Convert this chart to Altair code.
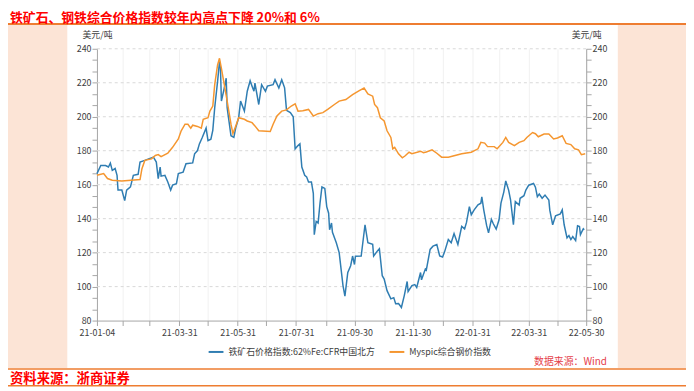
import altair as alt
import pandas as pd

FONT = "Noto Sans CJK SC"

ORE = "铁矿石价格指数:62%Fe:CFR中国北方"
STEEL = "Myspic综合钢价指数"

ore_dates = [
    "2021-01-04", "2021-01-08", "2021-01-13", "2021-01-16", "2021-01-18", "2021-01-20", "2021-01-23", "2021-01-25", "2021-01-26", "2021-01-30",
    "2021-02-02", "2021-02-04", "2021-02-08", "2021-02-11", "2021-02-16", "2021-02-18", "2021-02-23", "2021-02-27", "2021-03-04", "2021-03-07",
    "2021-03-09", "2021-03-11", "2021-03-12", "2021-03-16", "2021-03-19", "2021-03-22", "2021-03-24", "2021-03-28", "2021-03-30", "2021-04-04",
    "2021-04-07", "2021-04-14", "2021-04-16", "2021-04-19", "2021-04-21", "2021-04-24", "2021-04-28", "2021-04-30", "2021-05-03", "2021-05-05",
    "2021-05-07", "2021-05-10", "2021-05-12", "2021-05-13", "2021-05-14", "2021-05-17", "2021-05-19", "2021-05-20", "2021-05-24", "2021-05-27",
    "2021-05-29", "2021-06-01", "2021-06-03", "2021-06-07", "2021-06-10", "2021-06-13", "2021-06-15", "2021-06-17", "2021-06-18", "2021-06-22",
    "2021-06-25", "2021-06-29", "2021-07-01", "2021-07-07", "2021-07-09", "2021-07-13", "2021-07-16", "2021-07-19", "2021-07-21", "2021-07-25",
    "2021-07-28", "2021-07-30", "2021-08-02", "2021-08-04", "2021-08-06", "2021-08-09", "2021-08-11", "2021-08-13", "2021-08-16", "2021-08-18",
    "2021-08-19", "2021-08-21", "2021-08-23", "2021-08-25", "2021-08-27", "2021-08-30", "2021-09-01", "2021-09-03", "2021-09-04", "2021-09-06",
    "2021-09-07", "2021-09-11", "2021-09-14", "2021-09-18", "2021-09-20", "2021-09-23", "2021-09-26", "2021-09-28", "2021-09-30", "2021-10-01",
    "2021-10-07", "2021-10-11", "2021-10-14", "2021-10-19", "2021-10-20", "2021-10-24", "2021-10-26", "2021-10-29", "2021-10-31", "2021-11-03",
    "2021-11-07", "2021-11-10", "2021-11-12", "2021-11-15", "2021-11-18", "2021-11-21", "2021-11-24", "2021-11-25", "2021-11-29", "2021-12-02",
    "2021-12-04", "2021-12-08", "2021-12-09", "2021-12-13", "2021-12-14", "2021-12-18", "2021-12-21", "2021-12-25", "2021-12-28", "2021-12-31",
    "2022-01-02", "2022-01-06", "2022-01-09", "2022-01-12", "2022-01-16", "2022-01-20", "2022-01-23", "2022-01-25", "2022-01-28", "2022-01-30",
    "2022-02-02", "2022-02-06", "2022-02-09", "2022-02-10", "2022-02-12", "2022-02-15", "2022-02-17", "2022-02-20", "2022-02-22", "2022-02-25",
    "2022-02-28", "2022-03-02", "2022-03-05", "2022-03-07", "2022-03-10", "2022-03-12", "2022-03-15", "2022-03-17", "2022-03-21", "2022-03-22",
    "2022-03-26", "2022-03-28", "2022-03-31", "2022-04-05", "2022-04-07", "2022-04-09", "2022-04-11", "2022-04-14", "2022-04-17", "2022-04-21",
    "2022-04-22", "2022-04-25", "2022-04-28", "2022-05-03", "2022-05-05", "2022-05-07", "2022-05-10", "2022-05-12", "2022-05-14", "2022-05-16",
    "2022-05-19", "2022-05-21", "2022-05-23", "2022-05-24", "2022-05-27", "2022-05-28",
]
ore_values = [
    166.5, 171.3, 171.3, 170.4, 172.7, 168.4, 169.5, 165.5, 156.8, 156.8,
    150.6, 156.8, 158.7, 165.5, 166.1, 173.3, 174.3, 175.2, 176.2, 173.3,
    163.6, 170.4, 165, 165.5, 161.6, 156.8, 159.7, 160.6, 166.5, 167.4,
    172.3, 172.8, 178.2, 180.1, 184, 187.8, 193.3, 185.9, 186.8, 192,
    205.3, 220.8, 232.4, 228.5, 209.2, 216.9, 222.7, 205.3, 188.8, 187.8,
    193.6, 199.4, 209.2, 203.3, 215, 221.2, 218, 215, 219.8, 207.2,
    218.9, 215, 218, 218.9, 221.8, 216.9, 221.8, 217, 203.8, 202.4,
    200, 181.1, 183, 184, 170.4, 165.5, 164.6, 161.6, 161.6, 154.9,
    130.6, 138.4, 137.4, 149.1, 158.7, 157.8, 147.1, 143.2, 133.5, 137.4,
    132, 125.8, 120, 100.6, 94.4, 108.3, 112.3, 118, 113, 117.9,
    118, 136.4, 125.8, 124.9, 118, 121, 122.3, 106.4, 104.4, 97.6,
    92.8, 93.5, 89.9, 90, 87.7, 94.7, 103, 97.1, 100.6, 101.2,
    99.5, 108.3, 104, 110.3, 109.7, 121.9, 123.8, 124.8, 118, 117.4,
    120.3, 127.7, 125.8, 131.2, 124.8, 135.4, 134, 137.8, 147.1, 142.3,
    145.2, 148.1, 149.1, 152.9, 145.2, 136, 131.6, 139.6, 137, 133.9,
    139.3, 149.1, 155.8, 162.2, 156.8, 151, 136.4, 150, 148, 152,
    153.5, 156.8, 159.7, 160.7, 158.5, 152.9, 154.5, 152, 153.9, 151,
    145, 136.4, 141.7, 142.8, 145.2, 136.4, 128.7, 130, 127.7, 129.5,
    127.1, 135.8, 135.4, 130.6, 134.1, 133.5,
]

steel_dates = [
    "2021-01-04", "2021-01-11", "2021-01-15", "2021-01-20", "2021-01-30", "2021-02-18", "2021-02-20", "2021-02-23", "2021-03-02", "2021-03-06",
    "2021-03-09", "2021-03-12", "2021-03-19", "2021-03-24", "2021-03-30", "2021-04-02", "2021-04-06", "2021-04-09", "2021-04-12", "2021-04-14",
    "2021-04-19", "2021-04-23", "2021-04-25", "2021-04-30", "2021-05-02", "2021-05-05", "2021-05-07", "2021-05-10", "2021-05-12", "2021-05-14",
    "2021-05-17", "2021-05-20", "2021-05-24", "2021-05-26", "2021-05-29", "2021-06-01", "2021-06-07", "2021-06-10", "2021-06-15", "2021-06-18",
    "2021-06-22", "2021-07-04", "2021-07-07", "2021-07-11", "2021-07-16", "2021-07-21", "2021-07-26", "2021-07-30", "2021-08-02", "2021-08-07",
    "2021-08-13", "2021-08-18", "2021-08-23", "2021-08-28", "2021-09-02", "2021-09-09", "2021-09-14", "2021-09-21", "2021-09-28", "2021-10-05",
    "2021-10-10", "2021-10-14", "2021-10-19", "2021-10-21", "2021-10-24", "2021-10-27", "2021-10-31", "2021-11-03", "2021-11-07", "2021-11-09",
    "2021-11-11", "2021-11-15", "2021-11-19", "2021-11-22", "2021-11-26", "2021-11-29", "2021-12-08", "2021-12-11", "2021-12-14", "2021-12-20",
    "2021-12-25", "2021-12-30", "2022-01-06", "2022-01-13", "2022-01-20", "2022-01-30", "2022-02-06", "2022-02-09", "2022-02-13", "2022-02-16",
    "2022-02-23", "2022-02-26", "2022-03-04", "2022-03-07", "2022-03-10", "2022-03-16", "2022-03-21", "2022-03-26", "2022-03-29", "2022-04-04",
    "2022-04-07", "2022-04-10", "2022-04-16", "2022-04-21", "2022-04-26", "2022-04-30", "2022-05-05", "2022-05-09", "2022-05-14", "2022-05-18",
    "2022-05-22", "2022-05-25", "2022-05-29",
]
steel_values = [
    165.5, 166.5, 163.6, 162.6, 162.2, 163, 169.4, 174.3, 175.2, 177.2,
    177.7, 176.5, 178.5, 182, 186.9, 191.7, 195.6, 195.6, 193.3, 195,
    194.3, 193.3, 198.5, 199.4, 203.3, 206.3, 218.9, 230.5, 234.4, 228.5,
    218.9, 209.2, 195.6, 190.1, 194.6, 199.4, 198.5, 197.5, 196.5, 194.6,
    191.7, 191.3, 195.6, 200.4, 203.3, 204, 206.3, 207.6, 203.3, 203.5,
    204.3, 200.4, 201.8, 202.4, 204.3, 207.2, 209.2, 210.1, 213, 215.4,
    216.9, 213.4, 212.1, 207.2, 205.3, 199.4, 197.5, 191.7, 187.8, 181.1,
    182, 178.2, 175.8, 177, 179.1, 178.2, 179.7, 178.8, 179.2, 180.5,
    178.5, 176.2, 176.2, 177.2, 178.2, 179.1, 181.1, 184.9, 184.5, 182.4,
    182.4, 181.1, 184.9, 187.8, 184.9, 183, 184.9, 185.9, 187.8, 190.7,
    190, 188.2, 189.8, 189.8, 186.9, 187.5, 188.8, 184.3, 183.6, 181.1,
    180.5, 177.7, 178.2,
]

y_grid = [100, 120, 140, 160, 180, 200, 220, 240]
y_ticks = [round(80 + i * 20 / 3, 4) for i in range(25)]
x_tick_dates = [
    "2021-01-04", "2021-01-31", "2021-02-28", "2021-03-31", "2021-04-30", "2021-05-31",
    "2021-06-30", "2021-07-31", "2021-08-31", "2021-09-30", "2021-10-31", "2021-11-30",
    "2021-12-31", "2022-01-31", "2022-02-28", "2022-03-31", "2022-04-30", "2022-05-30",
]
x_labels = ["21-01-04", "21-03-31", "21-05-31", "21-07-31", "21-09-30", "21-11-30",
            "22-01-31", "22-03-31", "22-05-30"]

BLUE = "#2F7DB2"
ORANGE = "#F5962F"
PINK = "#FCE4D6"
LINE_ORANGE = "#EE7D31"
AXIS = "#A6A6A6"
TXT = "#404040"


def dt(s):
    y, m, d = (int(p) for p in s.split("-"))
    return alt.DateTime(year=y, month=m, date=d)


df = pd.concat([
    pd.DataFrame({"date": pd.to_datetime(ore_dates), "value": ore_values, "series": ORE}),
    pd.DataFrame({"date": pd.to_datetime(steel_dates), "value": steel_values, "series": STEEL}),
], ignore_index=True)

yscale = alt.Scale(domain=[80, 240], nice=False, zero=False)
label_set = "|" + "|".join(x_labels) + "|"
label_expr_x = ("indexof('" + label_set + "', '|' + timeFormat(datum.value, '%y-%m-%d') + '|') >= 0"
                " ? timeFormat(datum.value, '%y-%m-%d') : ''")
label_expr_y = "datum.value % 20 === 0 ? datum.label : ''"


def y_axis(orient):
    return alt.Axis(
        orient=orient, values=y_ticks, labelExpr=label_expr_y, labelOverlap=False,
        labelFlush=False, tickSize=5, tickColor=AXIS, domainColor=AXIS, grid=False,
        labelFont=FONT, labelFontSize=9, labelColor=TXT, labelPadding=1,
        title="美元/吨", titleAngle=0, titleX=0, titleY=-14, titleAlign="center",
        titleBaseline="middle", titleFont=FONT, titleFontSize=9,
        titleFontWeight="normal", titleColor=TXT,
    )


x_axis = alt.Axis(
    values=[dt(s) for s in x_tick_dates], labelExpr=label_expr_x, labelFlush=False,
    labelOverlap=False, tickSize=5, tickColor=AXIS, domainColor=AXIS, grid=True,
    gridColor="#F1F1F1", labelFont=FONT, labelFontSize=9, labelColor=TXT,
    labelPadding=3, title=None,
)

one = pd.DataFrame({"k": [0]})

bg_left = alt.Chart(one).mark_rect(color=PINK).encode(
    x=alt.value(-90), x2=alt.value(-30), y=alt.value(-24), y2=alt.value(323))
bg_right = alt.Chart(one).mark_rect(color=PINK).encode(
    x=alt.value(527), x2=alt.value(596), y=alt.value(-24), y2=alt.value(323))
top_rule = alt.Chart(one).mark_rule(color=LINE_ORANGE, strokeWidth=2).encode(
    x=alt.value(-90), x2=alt.value(596), y=alt.value(-25))
bot_rule1 = alt.Chart(one).mark_rule(color=LINE_ORANGE, strokeWidth=1.5).encode(
    x=alt.value(-90), x2=alt.value(596), y=alt.value(324))
bot_rule2 = alt.Chart(one).mark_rule(color=LINE_ORANGE, strokeWidth=1.5).encode(
    x=alt.value(-90), x2=alt.value(596), y=alt.value(341))

grid = alt.Chart(pd.DataFrame({"g": y_grid})).mark_rule(
    color="#D9D9D9", strokeDash=[3, 3], strokeWidth=1
).encode(y=alt.Y("g:Q", scale=yscale, axis=y_axis("right")))

lines = alt.Chart(df).mark_line(strokeWidth=1.5).encode(
    x=alt.X("date:T", scale=alt.Scale(domain=[dt("2021-01-04"), dt("2022-05-30")], nice=False),
            axis=x_axis),
    y=alt.Y("value:Q", scale=yscale, axis=y_axis("left")),
    color=alt.Color(
        "series:N",
        scale=alt.Scale(domain=[ORE, STEEL], range=[BLUE, ORANGE]),
        legend=alt.Legend(
            orient="none", legendX=112, legendY=298, direction="horizontal", title=None,
            symbolType="stroke", symbolSize=225, symbolStrokeWidth=2,
            labelFont=FONT, labelFontSize=9, labelColor=TXT, labelLimit=400,
            columnPadding=10, padding=0,
        ),
    ),
)

title = alt.Chart(one).mark_text(
    text="铁矿石、钢铁综合价格指数较年内高点下降 20%和 6%", align="left", baseline="middle",
    font=FONT, fontSize=13, fontWeight="bold", color="#FF0000",
).encode(x=alt.value(-88), y=alt.value(-31.5))

footer = alt.Chart(one).mark_text(
    text="资料来源：浙商证券", align="left", baseline="middle",
    font=FONT, fontSize=13.5, fontWeight="bold", color="#FF0000",
).encode(x=alt.value(-88), y=alt.value(334))

source = alt.Chart(one).mark_text(
    text="数据来源：Wind", align="right", baseline="middle",
    font=FONT, fontSize=10, color="#E5404A",
).encode(x=alt.value(516), y=alt.value(317))

chart = alt.layer(
    bg_left, bg_right, top_rule, bot_rule1, bot_rule2, grid, lines, title, footer, source
).resolve_scale(y="independent").properties(
    width=495, height=275,
    padding={"left": 90, "top": 39, "right": 101, "bottom": 69},
    autosize=alt.AutoSizeParams(type="none"),
    background="white",
).configure_view(stroke=None)

chart.save("out.html", embed_options={"renderer": "svg", "actions": False})
